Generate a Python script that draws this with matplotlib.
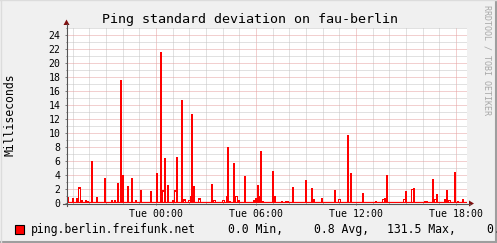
import numpy as np
import matplotlib
matplotlib.use("Agg")
import matplotlib.pyplot as plt
from matplotlib.patches import Rectangle, Polygon
from matplotlib.lines import Line2D

# ---------------- data (hours relative to Tue 00:00, values in ms) ----------------
spike_hours = [-5.28, -4.98, -4.74, -4.44, -4.20, -4.08, -3.84, -3.54, -3.06, -2.66,
               -2.46, -2.28, -2.10, -1.98, -1.68, -1.44, -1.20, -0.90, -0.30, 0.06,
               0.30, 0.54, 0.72, 1.02, 1.26, 1.56, 2.16, 2.28, 3.36, 4.32,
               4.44, 4.68, 4.98, 5.34, 5.88, 6.00, 6.12, 6.30, 6.42, 7.02,
               7.14, 7.56, 7.80, 7.92, 8.22, 9.00, 9.36, 9.48, 9.96, 10.74,
               11.28, 11.52, 11.70, 12.42, 13.20, 13.71, 13.86, 14.40, 14.97, 15.48,
               16.14, 16.26, 16.62, 16.86, 17.34, 17.46, 17.94, 18.12, 18.42]
spike_values = [0.8, 0.67, 0.76, 0.5, 0.5, 0.33, 6.05, 0.9, 3.6, 0.5,
                0.5, 2.9, 17.6, 4.0, 2.5, 3.6, 0.5, 1.9, 1.76, 4.33,
                21.6, 6.5, 2.6, 0.5, 6.6, 14.76, 12.76, 2.5, 2.76, 8.0,
                0.3, 5.7, 0.4, 3.85, 0.5, 0.7, 2.55, 7.45, 0.3, 4.6,
                1.05, 0.25, 0.25, 0.25, 2.35, 3.35, 2.2, 0.6, 0.78, 1.92,
                0.2, 9.78, 4.35, 1.48, 0.33, 0.7, 4.05, 0.2, 1.76, 2.2,
                0.33, 0.33, 3.5, 1.33, 0.6, 1.9, 4.48, 0.33, 0.6]
hollow_hours = [-4.59, 0.42, 1.14, 1.68, 1.98, 2.07, 2.58, 3.48, 4.02, 4.23,
                4.80, 6.21, 10.95, 13.62, 14.88, 15.36, 16.71, 17.58]
hollow_max = [2.33, 1.9, 1.9, 0.6, 0.5, 1.0, 0.7, 0.4, 0.4, 1.0,
              1.05, 1.0, 0.62, 0.6, 0.6, 2.0, 0.6, 0.48]
hollow_min = [2.0, 1.6, 1.6, 0.35, 0.3, 0.8, 0.5, 0.25, 0.25, 0.8,
              0.85, 0.8, 0.4, 0.4, 0.4, 1.8, 0.4, 0.3]
baseline_ms = 0.2

x_labels = ["Tue 00:00", "Tue 06:00", "Tue 12:00", "Tue 18:00"]
x_label_hours = [0, 6, 12, 18]
legend_name = "ping.berlin.freifunk.net"
legend_stats = ["0.0 Min,", "0.8 Avg,", "131.5 Max,", "0.8 Last"]

# ---------------- layout ----------------
W, H = 497, 243
t0 = -5.34          # start of the 24 h window
n_bins = 400
dt = 24.0 / n_bins

edges = t0 + dt * np.arange(n_bins + 1)
vmax = np.full(n_bins, baseline_ms)
vmin = np.zeros(n_bins)
for t, hi, lo in zip(hollow_hours, hollow_max, hollow_min):
    i = int(round((t - t0) / dt))
    sl = slice(max(i - 1, 0), min(i + 2, n_bins))
    vmax[sl] = np.maximum(vmax[sl], hi)
    vmin[i] = lo
for t, v in zip(spike_hours, spike_values):
    i = int(round((t - t0) / dt))
    sl = slice(max(i - 1, 0), min(i + 1, n_bins))
    vmax[sl] = np.maximum(vmax[sl], v)
    vmin[sl] = 0.0

mono = "DejaVu Sans Mono"
plt.rcParams["font.family"] = mono

fig = plt.figure(figsize=(W / 100, H / 100), dpi=100, facecolor="#F0F0F0")


def fx(x):
    return x / W


def fy(y):
    return 1 - y / H


ax = fig.add_axes([fx(67), fy(203), 400 / W, 175 / H])
ax.set_facecolor("white")
ax.set_xlim(t0, t0 + 24)
ax.set_ylim(0, 25)
for s in ax.spines.values():
    s.set_visible(False)

ax.set_xticks(x_label_hours, x_labels)
ax.set_xticks(np.arange(-5, 19), minor=True)
ax.set_yticks(np.arange(0, 25, 2), [str(v) for v in range(0, 25, 2)])
ax.set_yticks(np.arange(0, 26, 1), minor=True)
ax.set_axisbelow(True)
ax.grid(which="minor", color="#c4c4c4", lw=0.72, ls=(0, (1, 1)))
ax.grid(which="major", color="#e6a0a0", lw=0.72, ls=(0, (1, 1)))
ax.tick_params(which="both", direction="out", color="#808080", width=0.72)
ax.tick_params(which="major", length=1.5, labelsize=7.1)
ax.tick_params(which="minor", length=1.0)
ax.tick_params(axis="x", which="major", pad=2.6)
ax.tick_params(axis="y", which="major", pad=3.0)

ax.stairs(vmax, edges, baseline=0, fill=True, color="#ff0000", lw=0, zorder=2)
ax.stairs(vmin, edges, baseline=0, fill=True, color="white", lw=0, zorder=3)
ax.axhline(0.12, color="#ff0000", lw=0.9, zorder=4)

# axes lines and arrows
axis_col = "#555555"
arrow_col = "#7f1010"
fig.add_artist(Line2D([fx(63), fx(470)], [fy(203.5), fy(203.5)], color=axis_col, lw=0.8))
fig.add_artist(Line2D([fx(66.5), fx(66.5)], [fy(206), fy(24)], color=axis_col, lw=0.8))
fig.add_artist(Polygon([(fx(66.5), fy(19.5)), (fx(63.5), fy(25)), (fx(69.5), fy(25))],
                       closed=True, color=arrow_col, lw=0))
fig.add_artist(Polygon([(fx(474), fy(203.5)), (fx(469), fy(200.5)), (fx(469), fy(206.5))],
                       closed=True, color=arrow_col, lw=0))

# texts
fig.text(fx(250), fy(19), "Ping standard deviation on fau-berlin", ha="center", va="center",
         fontsize=9.6, family=mono)
fig.text(fx(10), fy(115), "Milliseconds", rotation=90, ha="center", va="center",
         fontsize=8.3, family=mono)
fig.text(fx(487.5), fy(60), "RRDTOOL / TOBI OETIKER", rotation=270, ha="center", va="center",
         fontsize=6, family=mono, color="#a8a8a8")

# legend
fig.add_artist(Rectangle((fx(15), fy(233.5)), 9 / W, 9 / H, facecolor="#ff0000",
                         edgecolor="black", lw=0.8))
fig.text(fx(30.7), fy(232.5), legend_name, ha="left", va="baseline", fontsize=8.3, family=mono)
for xpos, s in zip([228.3, 314.3, 386.7, 486.7], legend_stats):
    fig.text(fx(xpos), fy(232.5), s, ha="left", va="baseline", fontsize=8.3, family=mono)

# 3D border
fig.add_artist(Line2D([0, 1], [fy(241.5), fy(241.5)], color="#9e9e9e", lw=1.5))
fig.add_artist(Line2D([fx(495.5), fx(495.5)], [0, 1], color="#9e9e9e", lw=1.5))
fig.add_artist(Line2D([0, 1], [fy(0.5), fy(0.5)], color="#dcdcdc", lw=1))
fig.add_artist(Line2D([fx(0.5), fx(0.5)], [0, 1], color="#dcdcdc", lw=1))

fig.savefig("out.png", dpi=100, facecolor=fig.get_facecolor())
